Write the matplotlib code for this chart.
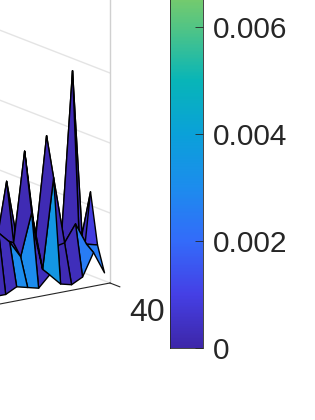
import numpy as np
import matplotlib
matplotlib.use('Agg')
import matplotlib.pyplot as plt
from matplotlib.colors import LinearSegmentedColormap, Normalize
from matplotlib.cm import ScalarMappable
from mpl_toolkits.mplot3d import proj3d

plt.rcParams['font.family'] = ['Liberation Sans', 'DejaVu Sans']

# surface heights, 1e-4 units. rows go from the front edge backwards, columns from right to left
x_vals = [40, 39, 38, 37, 36, 35]
y_vals = [39.5, 38.5, 37.5, 36.5, 35.5, 34.5, 33.5, 32.5, 31.5, 30.5, 29.5, 28.5, 27.5]
z_vals = [[ 4, 12,  4,  2,  3,  7,  3,  4,  5,  3,  3,  4,  4],
          [13, 14, 22, 16, 40,  8, 29, 14, 20, 24, 12, 10,  4],
          [31, 12, 10, 14, 54, 18, 50, 18, 20, 16, 14,  8,  4],
          [ 6, 74, 16, 14, 14, 14, 16, 39, 16, 14,  8,  6,  4],
          [ 3, 12, 12, 33, 12,  8, 10, 12,  9,  6,  4,  4,  4],
          [ 3,  3,  6,  6,  6,  6,  6,  6,  3,  3,  3,  3,  3]]
# face colour values, same units
c_vals = [[25, 25,  3,  2, 35,  3, 30, 30,  3,  2,  2,  2,  2],
          [ 9,  9,  2,  2,  2,  3,  2,  2,  3,  4,  3,  2,  2],
          [ 4,  2,  2,  2,  3,  2,  3,  2,  2,  2,  2,  2,  2],
          [ 2,  2,  2,  2,  2,  2,  2,  3,  2,  2,  2,  2,  2],
          [ 2,  2,  3,  2,  2,  2,  2,  2,  2,  2,  2,  2,  2],
          [ 2,  2,  2,  2,  2,  2,  2,  2,  2,  2,  2,  2,  2]]

z_grid = [0.0025, 0.005, 0.0075]
cbar_ticks = [0, 0.002, 0.004, 0.006]
cbar_labels = ['0', '0.002', '0.004', '0.006']

# parula like colours
cmap_vals = [0, 0.001, 0.002, 0.003, 0.004, 0.005, 0.006, 0.0067]
cmap_cols = [(.24, .15, .66), (.27, .25, .90), (.20, .42, .98), (.11, .55, .93),
             (.04, .63, .85), (.03, .71, .72), (.32, .77, .52), (.50, .80, .40)]

cmap = LinearSegmentedColormap.from_list('par', [(v / 0.0067, c) for v, c in zip(cmap_vals, cmap_cols)])
norm = Normalize(0, 0.0067)
ink = (0.15, 0.15, 0.15)

fig = plt.figure(figsize=(3.15, 4.2), dpi=100)
W, H = 315., 420.

ax = fig.add_axes([-1, -1, 2, 2], projection='3d', computed_zorder=False)
ax.set_proj_type('ortho')
ax.view_init(elev=15.8, azim=-35)
ax.set_xlim(0, 40)
ax.set_ylim(0, 40)
ax.set_zlim(0, 0.011)
ax.set_box_aspect((488, 536, 320))
ax.set_axis_off()

X, Y = np.meshgrid(x_vals, y_vals, indexing='ij')
Z = np.array(z_vals) * 1e-4
C = np.array(c_vals) * 1e-4

# walls first
ax.plot([0, 40], [40, 40], [0, 0], color='#e4e4e4', lw=1, zorder=1)
for z in z_grid:
    ax.plot([0, 40], [40, 40], [z, z], color='#e4e4e4', lw=1, zorder=1)
ax.plot([40, 40], [40, 40], [0, 0.011], color='#d0d0d0', lw=1, zorder=1)

ax.plot_surface(X, Y, Z, facecolors=cmap(norm(C)), shade=False, rstride=1, cstride=1,
                edgecolor='k', linewidth=1.0, zorder=2)

ax.plot([40, 40], [0, 40], [0, 0], color=ink, lw=0.8, zorder=3)
ax.plot([40, 41.4], [40, 40], [0, 0], color=ink, lw=0.8, zorder=3)


# put the box corner where it is in the picture, 70px per grid step
def px(p):
    M = ax.get_proj()
    a, b, _ = proj3d.proj_transform(p[0], p[1], p[2], M)
    return ax.transData.transform((a, b))


for n in range(3):
    ax.apply_aspect()
    a = px((40, 40, 0))
    b = px((40, 40, 0.0075))
    pos = ax.get_position()
    size = pos.width * W * 210. / (b[1] - a[1])
    ax.set_position([pos.x0, pos.y0, size / W, size / H])
    ax.apply_aspect()
    a = px((40, 40, 0))
    pos = ax.get_position()
    ax.set_position([pos.x0 + (110 - a[0]) / W, pos.y0 + (H - 283 - a[1]) / H, size / W, size / H])

fig.text(147 / W, 1 - 313 / H, '40', ha='center', va='center', fontsize=23, color=ink)

# colour bar runs off the top of the picture
cax = fig.add_axes([170 / W, 1 - 348 / H, 33 / W, (348 + 10.7) / H])
cb = fig.colorbar(ScalarMappable(norm, cmap), cax=cax)
cb.set_ticks(cbar_ticks, labels=cbar_labels)
cb.ax.tick_params(direction='in', length=6, width=0.6, color=ink, labelsize=21.5, labelcolor=ink, pad=7)
cb.outline.set_edgecolor(ink)
cb.outline.set_linewidth(0.6)

fig.savefig('out.png', dpi=100)
